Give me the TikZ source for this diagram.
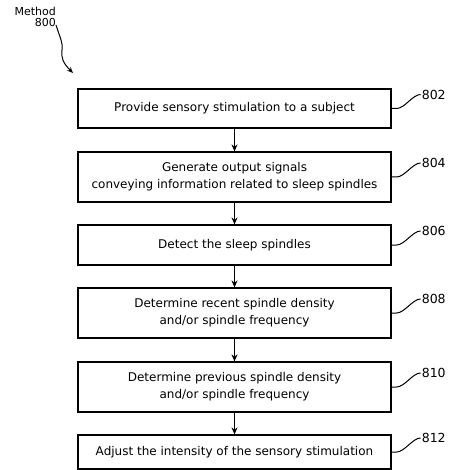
\documentclass[tikz,border=0pt]{standalone}
\usepackage{fontspec}
\setmainfont{DejaVu Sans}
\usetikzlibrary{arrows.meta}
\tikzset{
  stepbox/.style={draw=black, line width=1.2pt, minimum width=313pt, align=center, inner sep=0pt, font=\fontsize{12}{17}\selectfont},
  flowarrow/.style={line width=1pt, -{Stealth[length=7pt,width=6pt]}},
  leader/.style={line width=1pt},
  reflabel/.style={anchor=west, inner sep=1pt, font=\fontsize{12.5}{13}\selectfont},
}
\begin{document}
\begin{tikzpicture}[x=1pt,y=-1pt]
\useasboundingbox (0,0) rectangle (448,470);
\node[stepbox, minimum height=39pt] (b1) at (234.5,108.5) {Provide sensory stimulation to a subject};
\node[stepbox, minimum height=50pt] (b2) at (234.5,177) {Generate output signals\\conveying information related to sleep spindles};
\node[stepbox, minimum height=40pt] (b3) at (234.5,245) {Detect the sleep spindles};
\node[stepbox, minimum height=50pt] (b4) at (234.5,313) {Determine recent spindle density\\and/or spindle frequency};
\node[stepbox, minimum height=50pt] (b5) at (234.5,387) {Determine previous spindle density\\and/or spindle frequency};
\node[stepbox, minimum height=34pt] (b6) at (234.5,452) {Adjust the intensity of the sensory stimulation};
\foreach \a/\b in {b1/b2,b2/b3,b3/b4,b4/b5,b5/b6}{
  \draw[flowarrow] (\a.south) -- (\b.north);
}
\foreach \b/\n in {b1/802,b2/804,b3/806,b4/808,b5/810,b6/812}{
  \coordinate (e\n) at ([shift={(29pt,14pt)}]\b.east);
  \draw[leader] (\b.east) -- ++(5pt,0) .. controls +(8pt,0) and +(-8pt,0) .. (e\n);
  \node[reflabel] (l\n) at (e\n) {\n};
}
\node[align=right, inner sep=0pt, font=\fontsize{11}{11}\selectfont, anchor=north east] (m) at (56,7) {Method\\800};
\coordinate (mt) at (73,73);
\draw[line width=1pt, -{Stealth[length=6pt,width=5pt]}] ([yshift=2pt]m.south east) .. controls (60,38) and (63,42) .. (62,50) .. controls (61,58) and (63,63) .. (mt);
\end{tikzpicture}
\end{document}
